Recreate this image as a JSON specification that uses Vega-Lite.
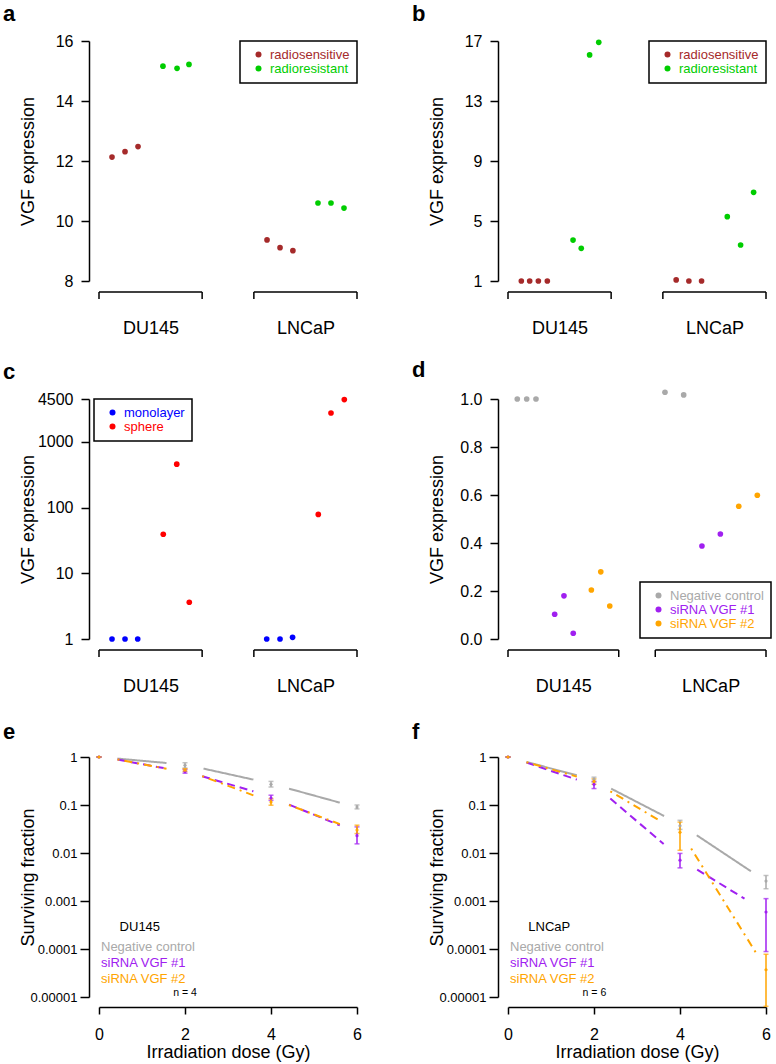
{
  "$schema": "https://vega.github.io/schema/vega-lite/v6.json",
  "background": "white",
  "padding": {"left": 3, "top": 3, "right": 5, "bottom": 5},
  "datasets": {
    "a": [
      {"cell": "DU145", "group": "radiosensitive", "pos": 0.751, "vgf": 12.13},
      {"cell": "DU145", "group": "radiosensitive", "pos": 0.835, "vgf": 12.31},
      {"cell": "DU145", "group": "radiosensitive", "pos": 0.919, "vgf": 12.48},
      {"cell": "DU145", "group": "radioresistant", "pos": 1.080, "vgf": 15.16},
      {"cell": "DU145", "group": "radioresistant", "pos": 1.171, "vgf": 15.09},
      {"cell": "DU145", "group": "radioresistant", "pos": 1.248, "vgf": 15.22},
      {"cell": "LNCaP", "group": "radiosensitive", "pos": 1.752, "vgf": 9.37},
      {"cell": "LNCaP", "group": "radiosensitive", "pos": 1.836, "vgf": 9.11},
      {"cell": "LNCaP", "group": "radiosensitive", "pos": 1.919, "vgf": 9.01},
      {"cell": "LNCaP", "group": "radioresistant", "pos": 2.081, "vgf": 10.60},
      {"cell": "LNCaP", "group": "radioresistant", "pos": 2.165, "vgf": 10.60},
      {"cell": "LNCaP", "group": "radioresistant", "pos": 2.249, "vgf": 10.43}
    ],
    "b": [
      {"cell": "DU145", "group": "radiosensitive", "pos": 0.753, "vgf": 1.0},
      {"cell": "DU145", "group": "radiosensitive", "pos": 0.807, "vgf": 1.0},
      {"cell": "DU145", "group": "radiosensitive", "pos": 0.863, "vgf": 1.0},
      {"cell": "DU145", "group": "radiosensitive", "pos": 0.921, "vgf": 1.0},
      {"cell": "DU145", "group": "radioresistant", "pos": 1.087, "vgf": 3.73},
      {"cell": "DU145", "group": "radioresistant", "pos": 1.140, "vgf": 3.18},
      {"cell": "DU145", "group": "radioresistant", "pos": 1.194, "vgf": 16.07},
      {"cell": "DU145", "group": "radioresistant", "pos": 1.253, "vgf": 16.91},
      {"cell": "LNCaP", "group": "radiosensitive", "pos": 1.753, "vgf": 1.07},
      {"cell": "LNCaP", "group": "radiosensitive", "pos": 1.835, "vgf": 1.0},
      {"cell": "LNCaP", "group": "radiosensitive", "pos": 1.917, "vgf": 1.0},
      {"cell": "LNCaP", "group": "radioresistant", "pos": 2.083, "vgf": 5.29},
      {"cell": "LNCaP", "group": "radioresistant", "pos": 2.169, "vgf": 3.40},
      {"cell": "LNCaP", "group": "radioresistant", "pos": 2.253, "vgf": 6.91}
    ],
    "c": [
      {"cell": "DU145", "group": "monolayer", "pos": 0.751, "vgf": 1.0},
      {"cell": "DU145", "group": "monolayer", "pos": 0.835, "vgf": 1.0},
      {"cell": "DU145", "group": "monolayer", "pos": 0.917, "vgf": 1.0},
      {"cell": "DU145", "group": "sphere", "pos": 1.082, "vgf": 39.3},
      {"cell": "DU145", "group": "sphere", "pos": 1.169, "vgf": 458},
      {"cell": "DU145", "group": "sphere", "pos": 1.250, "vgf": 3.63},
      {"cell": "LNCaP", "group": "monolayer", "pos": 1.750, "vgf": 1.0},
      {"cell": "LNCaP", "group": "monolayer", "pos": 1.836, "vgf": 1.0},
      {"cell": "LNCaP", "group": "monolayer", "pos": 1.917, "vgf": 1.06},
      {"cell": "LNCaP", "group": "sphere", "pos": 2.083, "vgf": 78.7},
      {"cell": "LNCaP", "group": "sphere", "pos": 2.165, "vgf": 2756},
      {"cell": "LNCaP", "group": "sphere", "pos": 2.251, "vgf": 4403}
    ],
    "d": [
      {"cell": "DU145", "group": "Negative control", "pos": 0.687, "vgf": 1.0},
      {"cell": "DU145", "group": "Negative control", "pos": 0.751, "vgf": 1.0},
      {"cell": "DU145", "group": "Negative control", "pos": 0.814, "vgf": 1.0},
      {"cell": "DU145", "group": "siRNA VGF #1", "pos": 0.941, "vgf": 0.103},
      {"cell": "DU145", "group": "siRNA VGF #1", "pos": 1.004, "vgf": 0.180},
      {"cell": "DU145", "group": "siRNA VGF #1", "pos": 1.067, "vgf": 0.024},
      {"cell": "DU145", "group": "siRNA VGF #2", "pos": 1.190, "vgf": 0.204},
      {"cell": "DU145", "group": "siRNA VGF #2", "pos": 1.254, "vgf": 0.280},
      {"cell": "DU145", "group": "siRNA VGF #2", "pos": 1.315, "vgf": 0.1375},
      {"cell": "LNCaP", "group": "Negative control", "pos": 1.690, "vgf": 1.028},
      {"cell": "LNCaP", "group": "Negative control", "pos": 1.817, "vgf": 1.017},
      {"cell": "LNCaP", "group": "siRNA VGF #1", "pos": 1.941, "vgf": 0.3875},
      {"cell": "LNCaP", "group": "siRNA VGF #1", "pos": 2.066, "vgf": 0.4375},
      {"cell": "LNCaP", "group": "siRNA VGF #2", "pos": 2.191, "vgf": 0.553},
      {"cell": "LNCaP", "group": "siRNA VGF #2", "pos": 2.317, "vgf": 0.599}
    ],
    "brackets": [
      {"cell": "DU145", "from": 0.667, "to": 1.333},
      {"cell": "LNCaP", "from": 1.667, "to": 2.333}
    ],
    "brackets_d": [
      {"cell": "DU145", "from": 0.624, "to": 1.376},
      {"cell": "LNCaP", "from": 1.624, "to": 2.376}
    ],
    "e_seg": [
      {"series": "Negative control", "x": 0.43, "y": 0.926, "x2": 1.57, "y2": 0.75},
      {"series": "Negative control", "x": 2.43, "y": 0.573, "x2": 3.59, "y2": 0.338},
      {"series": "Negative control", "x": 4.42, "y": 0.219, "x2": 5.6, "y2": 0.112},
      {"series": "siRNA VGF #1", "x": 0.43, "y": 0.883, "x2": 1.57, "y2": 0.573},
      {"series": "siRNA VGF #1", "x": 2.4, "y": 0.396, "x2": 3.59, "y2": 0.193},
      {"series": "siRNA VGF #1", "x": 4.42, "y": 0.102, "x2": 5.6, "y2": 0.0378},
      {"series": "siRNA VGF #2", "x": 0.43, "y": 0.89, "x2": 1.57, "y2": 0.57},
      {"series": "siRNA VGF #2", "x": 2.4, "y": 0.40, "x2": 3.59, "y2": 0.159},
      {"series": "siRNA VGF #2", "x": 4.42, "y": 0.10, "x2": 5.6, "y2": 0.04}
    ],
    "e_pts": [
      {"series": "Negative control", "dose": 0, "sf": 1, "lo": 1, "hi": 1},
      {"series": "Negative control", "dose": 2, "sf": 0.67, "lo": 0.59, "hi": 0.76},
      {"series": "Negative control", "dose": 4, "sf": 0.27, "lo": 0.237, "hi": 0.31},
      {"series": "Negative control", "dose": 6, "sf": 0.091, "lo": 0.083, "hi": 0.10},
      {"series": "siRNA VGF #1", "dose": 0, "sf": 1, "lo": 1, "hi": 1},
      {"series": "siRNA VGF #1", "dose": 2, "sf": 0.50, "lo": 0.46, "hi": 0.55},
      {"series": "siRNA VGF #1", "dose": 4, "sf": 0.14, "lo": 0.125, "hi": 0.16},
      {"series": "siRNA VGF #1", "dose": 6, "sf": 0.023, "lo": 0.0155, "hi": 0.035},
      {"series": "siRNA VGF #2", "dose": 0, "sf": 1, "lo": 1, "hi": 1},
      {"series": "siRNA VGF #2", "dose": 2, "sf": 0.53, "lo": 0.50, "hi": 0.57},
      {"series": "siRNA VGF #2", "dose": 4, "sf": 0.115, "lo": 0.099, "hi": 0.136},
      {"series": "siRNA VGF #2", "dose": 6, "sf": 0.030, "lo": 0.0254, "hi": 0.038}
    ],
    "f_seg": [
      {"series": "Negative control", "x": 0.43, "y": 0.787, "x2": 1.6, "y2": 0.416},
      {"series": "Negative control", "x": 2.4, "y": 0.219, "x2": 3.63, "y2": 0.059},
      {"series": "Negative control", "x": 4.39, "y": 0.0234, "x2": 5.65, "y2": 0.00416},
      {"series": "siRNA VGF #1", "x": 0.43, "y": 0.764, "x2": 1.6, "y2": 0.338},
      {"series": "siRNA VGF #1", "x": 2.38, "y": 0.136, "x2": 3.62, "y2": 0.0154},
      {"series": "siRNA VGF #1", "x": 4.4, "y": 0.0045, "x2": 5.5, "y2": 0.00112},
      {"series": "siRNA VGF #2", "x": 0.43, "y": 0.78, "x2": 1.6, "y2": 0.39},
      {"series": "siRNA VGF #2", "x": 2.38, "y": 0.193, "x2": 3.58, "y2": 0.0443},
      {"series": "siRNA VGF #2", "x": 4.26, "y": 0.0124, "x2": 5.78, "y2": 0.00008}
    ],
    "f_pts": [
      {"series": "Negative control", "dose": 0, "sf": 1, "lo": 1, "hi": 1},
      {"series": "Negative control", "dose": 2, "sf": 0.34, "lo": 0.30, "hi": 0.38},
      {"series": "Negative control", "dose": 4, "sf": 0.037, "lo": 0.031, "hi": 0.048},
      {"series": "Negative control", "dose": 6, "sf": 0.0026, "lo": 0.0018, "hi": 0.0034},
      {"series": "siRNA VGF #1", "dose": 0, "sf": 1, "lo": 1, "hi": 1},
      {"series": "siRNA VGF #1", "dose": 2, "sf": 0.27, "lo": 0.22, "hi": 0.31},
      {"series": "siRNA VGF #1", "dose": 4, "sf": 0.0071, "lo": 0.0049, "hi": 0.0098},
      {"series": "siRNA VGF #1", "dose": 6, "sf": 0.00059, "lo": 0.0000885, "hi": 0.00112},
      {"series": "siRNA VGF #2", "dose": 0, "sf": 1, "lo": 1, "hi": 1},
      {"series": "siRNA VGF #2", "dose": 2, "sf": 0.31, "lo": 0.27, "hi": 0.35},
      {"series": "siRNA VGF #2", "dose": 4, "sf": 0.027, "lo": 0.0114, "hi": 0.044},
      {"series": "siRNA VGF #2", "dose": 6, "sf": 0.000037, "lo": 0.0000064, "hi": 0.0000776}
    ]
  },
  "concat": [
    {
      "width": 258, "height": 240,
      "title": {"text": "a"},
      "layer": [
        {
          "data": {"name": "a"},
          "mark": {"type": "circle", "size": 32, "opacity": 1},
          "encoding": {
            "x": {"field": "pos", "type": "quantitative", "scale": {"domain": [0.667, 2.333], "nice": false, "zero": false},
                  "axis": {"values": [1, 2], "labelExpr": "datum.value == 1 ? 'DU145' : 'LNCaP'", "domain": false, "ticks": false, "tickSize": 0, "labelPadding": 38, "labelFontSize": 18, "title": null}},
            "y": {"field": "vgf", "type": "quantitative", "scale": {"domain": [8, 16], "nice": false, "zero": false},
                  "axis": {"values": [8, 10, 12, 14, 16], "title": "VGF expression", "offset": 10, "titleX": -52}},
            "color": {"field": "group", "type": "nominal", "scale": {"domain": ["radiosensitive", "radioresistant"], "range": ["#a52a2a", "#00cd00"]},
                      "legend": {"title": null, "orient": "top-right", "offset": 0, "labelColor": {"expr": "datum.value == 'radiosensitive' ? '#a52a2a' : '#00cd00'"}}}
          }
        },
        {"data": {"name": "brackets"}, "mark": {"type": "rule", "color": "black", "strokeWidth": 1.5},
         "encoding": {"x": {"field": "from", "type": "quantitative"}, "x2": {"field": "to"}, "y": {"datum": 7.633}}},
        {"data": {"name": "brackets"}, "mark": {"type": "rule", "color": "black", "strokeWidth": 1.5},
         "encoding": {"x": {"field": "from", "type": "quantitative"}, "y": {"datum": 7.633}, "y2": {"datum": 7.4}}},
        {"data": {"name": "brackets"}, "mark": {"type": "rule", "color": "black", "strokeWidth": 1.5},
         "encoding": {"x": {"field": "to", "type": "quantitative"}, "y": {"datum": 7.633}, "y2": {"datum": 7.4}}}
      ]
    },
    {
      "width": 258, "height": 240,
      "title": {"text": "b"},
      "layer": [
        {
          "data": {"name": "b"},
          "mark": {"type": "circle", "size": 32, "opacity": 1},
          "encoding": {
            "x": {"field": "pos", "type": "quantitative", "scale": {"domain": [0.667, 2.333], "nice": false, "zero": false},
                  "axis": {"values": [1, 2], "labelExpr": "datum.value == 1 ? 'DU145' : 'LNCaP'", "domain": false, "ticks": false, "tickSize": 0, "labelPadding": 38, "labelFontSize": 18, "title": null}},
            "y": {"field": "vgf", "type": "quantitative", "scale": {"domain": [1, 17], "nice": false, "zero": false},
                  "axis": {"values": [1, 5, 9, 13, 17], "title": "VGF expression", "offset": 10, "titleX": -52}},
            "color": {"field": "group", "type": "nominal", "scale": {"domain": ["radiosensitive", "radioresistant"], "range": ["#a52a2a", "#00cd00"]},
                      "legend": {"title": null, "orient": "top-right", "offset": 0, "labelColor": {"expr": "datum.value == 'radiosensitive' ? '#a52a2a' : '#00cd00'"}}}
          }
        },
        {"data": {"name": "brackets"}, "mark": {"type": "rule", "color": "black", "strokeWidth": 1.5},
         "encoding": {"x": {"field": "from", "type": "quantitative"}, "x2": {"field": "to"}, "y": {"datum": 0.267}}},
        {"data": {"name": "brackets"}, "mark": {"type": "rule", "color": "black", "strokeWidth": 1.5},
         "encoding": {"x": {"field": "from", "type": "quantitative"}, "y": {"datum": 0.267}, "y2": {"datum": -0.2}}},
        {"data": {"name": "brackets"}, "mark": {"type": "rule", "color": "black", "strokeWidth": 1.5},
         "encoding": {"x": {"field": "to", "type": "quantitative"}, "y": {"datum": 0.267}, "y2": {"datum": -0.2}}}
      ]
    },
    {
      "width": 258, "height": 240,
      "title": {"text": "c"},
      "layer": [
        {
          "data": {"name": "c"},
          "mark": {"type": "circle", "size": 32, "opacity": 1},
          "encoding": {
            "x": {"field": "pos", "type": "quantitative", "scale": {"domain": [0.667, 2.333], "nice": false, "zero": false},
                  "axis": {"values": [1, 2], "labelExpr": "datum.value == 1 ? 'DU145' : 'LNCaP'", "domain": false, "ticks": false, "tickSize": 0, "labelPadding": 38, "labelFontSize": 18, "title": null}},
            "y": {"field": "vgf", "type": "quantitative", "scale": {"type": "log", "domain": [1, 4500], "nice": false},
                  "axis": {"values": [1, 10, 100, 1000, 4500], "format": "d", "title": "VGF expression", "offset": 10, "titleX": -52}},
            "color": {"field": "group", "type": "nominal", "scale": {"domain": ["monolayer", "sphere"], "range": ["#0000ff", "#ff0000"]},
                      "legend": {"title": null, "orient": "none", "legendX": -5, "legendY": 0, "labelColor": {"expr": "datum.value == 'monolayer' ? '#0000ff' : '#ff0000'"}}}
          }
        },
        {"data": {"name": "brackets"}, "mark": {"type": "rule", "color": "black", "strokeWidth": 1.5},
         "encoding": {"x": {"field": "from", "type": "quantitative"}, "x2": {"field": "to"}, "y": {"datum": 0.679}}},
        {"data": {"name": "brackets"}, "mark": {"type": "rule", "color": "black", "strokeWidth": 1.5},
         "encoding": {"x": {"field": "from", "type": "quantitative"}, "y": {"datum": 0.679}, "y2": {"datum": 0.53}}},
        {"data": {"name": "brackets"}, "mark": {"type": "rule", "color": "black", "strokeWidth": 1.5},
         "encoding": {"x": {"field": "to", "type": "quantitative"}, "y": {"datum": 0.679}, "y2": {"datum": 0.53}}}
      ]
    },
    {
      "width": 258, "height": 240,
      "title": {"text": "d"},
      "layer": [
        {
          "data": {"name": "d"},
          "mark": {"type": "circle", "size": 32, "opacity": 1},
          "encoding": {
            "x": {"field": "pos", "type": "quantitative", "scale": {"domain": [0.624, 2.376], "nice": false, "zero": false},
                  "axis": {"values": [1, 2], "labelExpr": "datum.value == 1 ? 'DU145' : 'LNCaP'", "domain": false, "ticks": false, "tickSize": 0, "labelPadding": 38, "labelFontSize": 18, "title": null}},
            "y": {"field": "vgf", "type": "quantitative", "scale": {"domain": [0, 1], "nice": false, "zero": false},
                  "axis": {"values": [0, 0.2, 0.4, 0.6, 0.8, 1.0], "format": ".1f", "title": "VGF expression", "offset": 10, "titleX": -52}},
            "color": {"field": "group", "type": "nominal", "scale": {"domain": ["Negative control", "siRNA VGF #1", "siRNA VGF #2"], "range": ["#a9a9a9", "#a020f0", "#ffa500"]},
                      "legend": {"title": null, "orient": "none", "legendX": 132, "legendY": 183, "labelColor": {"expr": "datum.value == 'Negative control' ? '#a9a9a9' : datum.value == 'siRNA VGF #1' ? '#a020f0' : '#ffa500'"}}}
          }
        },
        {"data": {"name": "brackets_d"}, "mark": {"type": "rule", "color": "black", "strokeWidth": 1.5},
         "encoding": {"x": {"field": "from", "type": "quantitative"}, "x2": {"field": "to"}, "y": {"datum": -0.0458}}},
        {"data": {"name": "brackets_d"}, "mark": {"type": "rule", "color": "black", "strokeWidth": 1.5},
         "encoding": {"x": {"field": "from", "type": "quantitative"}, "y": {"datum": -0.0458}, "y2": {"datum": -0.075}}},
        {"data": {"name": "brackets_d"}, "mark": {"type": "rule", "color": "black", "strokeWidth": 1.5},
         "encoding": {"x": {"field": "to", "type": "quantitative"}, "y": {"datum": -0.0458}, "y2": {"datum": -0.075}}}
      ]
    },
    {
      "width": 258, "height": 240,
      "title": {"text": "e"},
      "layer": [
        {
          "data": {"name": "e_seg"},
          "mark": {"type": "rule", "strokeWidth": 2},
          "encoding": {
            "x": {"field": "x", "type": "quantitative", "title": "Irradiation dose (Gy)", "scale": {"domain": [0, 6], "nice": false, "zero": false},
                  "axis": {"values": [0, 2, 4, 6], "format": "d", "offset": 10, "tickSize": 7, "labelPadding": 12, "titlePadding": 1}},
            "x2": {"field": "x2"},
            "y": {"field": "y", "type": "quantitative", "title": "Surviving fraction", "scale": {"type": "log", "domain": [0.00001, 1], "nice": false},
                  "axis": {"values": [0.00001, 0.0001, 0.001, 0.01, 0.1, 1], "format": ".5~f", "labelFontSize": 13, "labelPadding": 3, "tickSize": 9, "offset": 10, "titleX": -52}},
            "y2": {"field": "y2"},
            "color": {"field": "series", "type": "nominal", "scale": {"domain": ["Negative control", "siRNA VGF #1", "siRNA VGF #2"], "range": ["#a9a9a9", "#a020f0", "#ffa500"]},
                      "legend": {"title": null, "orient": "none", "legendX": -11, "legendY": 183, "padding": 0, "strokeColor": "transparent", "symbolOpacity": 0, "symbolSize": 0, "symbolStrokeWidth": 0, "symbolOffset": 0, "labelOffset": 0, "rowPadding": 2,
                                 "labelColor": {"expr": "datum.value == 'Negative control' ? '#a9a9a9' : datum.value == 'siRNA VGF #1' ? '#a020f0' : '#ffa500'"}}},
            "strokeDash": {"field": "series", "type": "nominal", "scale": {"domain": ["Negative control", "siRNA VGF #1", "siRNA VGF #2"], "range": [[1, 0], [8, 5], [2, 5, 8, 5]]}, "legend": null}
          }
        },
        {
          "data": {"name": "e_pts"},
          "mark": {"type": "errorbar", "ticks": {"size": 5}, "thickness": 1.5},
          "encoding": {
            "x": {"field": "dose", "type": "quantitative", "title": "Irradiation dose (Gy)"},
            "y": {"field": "lo", "type": "quantitative", "title": "Surviving fraction"},
            "y2": {"field": "hi"},
            "color": {"field": "series", "type": "nominal"}
          }
        },
        {
          "data": {"name": "e_pts"},
          "mark": {"type": "circle", "size": 10, "opacity": 1},
          "encoding": {
            "x": {"field": "dose", "type": "quantitative", "title": "Irradiation dose (Gy)"},
            "y": {"field": "sf", "type": "quantitative", "title": "Surviving fraction"},
            "color": {"field": "series", "type": "nominal"}
          }
        },
        {
          "data": {"values": [{"t": "DU145"}]},
          "mark": {"type": "text", "fontSize": 13, "align": "center", "baseline": "middle", "color": "black"},
          "encoding": {"x": {"datum": 0.95}, "y": {"datum": 0.000287}, "text": {"field": "t"}}
        },
        {
          "data": {"values": [{"t": "n = 4"}]},
          "mark": {"type": "text", "fontSize": 10.5, "align": "center", "baseline": "middle", "color": "black"},
          "encoding": {"x": {"datum": 2.0}, "y": {"datum": 0.0000124}, "text": {"field": "t"}}
        }
      ]
    },
    {
      "width": 258, "height": 240,
      "title": {"text": "f"},
      "layer": [
        {
          "data": {"name": "f_seg"},
          "mark": {"type": "rule", "strokeWidth": 2},
          "encoding": {
            "x": {"field": "x", "type": "quantitative", "title": "Irradiation dose (Gy)", "scale": {"domain": [0, 6], "nice": false, "zero": false},
                  "axis": {"values": [0, 2, 4, 6], "format": "d", "offset": 10, "tickSize": 7, "labelPadding": 12, "titlePadding": 1}},
            "x2": {"field": "x2"},
            "y": {"field": "y", "type": "quantitative", "title": "Surviving fraction", "scale": {"type": "log", "domain": [0.00001, 1], "nice": false},
                  "axis": {"values": [0.00001, 0.0001, 0.001, 0.01, 0.1, 1], "format": ".5~f", "labelFontSize": 13, "labelPadding": 3, "tickSize": 9, "offset": 10, "titleX": -52}},
            "y2": {"field": "y2"},
            "color": {"field": "series", "type": "nominal", "scale": {"domain": ["Negative control", "siRNA VGF #1", "siRNA VGF #2"], "range": ["#a9a9a9", "#a020f0", "#ffa500"]},
                      "legend": {"title": null, "orient": "none", "legendX": -11, "legendY": 183, "padding": 0, "strokeColor": "transparent", "symbolOpacity": 0, "symbolSize": 0, "symbolStrokeWidth": 0, "symbolOffset": 0, "labelOffset": 0, "rowPadding": 2,
                                 "labelColor": {"expr": "datum.value == 'Negative control' ? '#a9a9a9' : datum.value == 'siRNA VGF #1' ? '#a020f0' : '#ffa500'"}}},
            "strokeDash": {"field": "series", "type": "nominal", "scale": {"domain": ["Negative control", "siRNA VGF #1", "siRNA VGF #2"], "range": [[1, 0], [8, 5], [2, 5, 8, 5]]}, "legend": null}
          }
        },
        {
          "data": {"name": "f_pts"},
          "mark": {"type": "errorbar", "ticks": {"size": 5}, "thickness": 1.5},
          "encoding": {
            "x": {"field": "dose", "type": "quantitative", "title": "Irradiation dose (Gy)"},
            "y": {"field": "lo", "type": "quantitative", "title": "Surviving fraction"},
            "y2": {"field": "hi"},
            "color": {"field": "series", "type": "nominal"}
          }
        },
        {
          "data": {"name": "f_pts"},
          "mark": {"type": "circle", "size": 10, "opacity": 1},
          "encoding": {
            "x": {"field": "dose", "type": "quantitative", "title": "Irradiation dose (Gy)"},
            "y": {"field": "sf", "type": "quantitative", "title": "Surviving fraction"},
            "color": {"field": "series", "type": "nominal"}
          }
        },
        {
          "data": {"values": [{"t": "LNCaP"}]},
          "mark": {"type": "text", "fontSize": 13, "align": "center", "baseline": "middle", "color": "black"},
          "encoding": {"x": {"datum": 0.96}, "y": {"datum": 0.000287}, "text": {"field": "t"}}
        },
        {
          "data": {"values": [{"t": "n = 6"}]},
          "mark": {"type": "text", "fontSize": 10.5, "align": "center", "baseline": "middle", "color": "black"},
          "encoding": {"x": {"datum": 2.01}, "y": {"datum": 0.0000124}, "text": {"field": "t"}}
        }
      ]
    }
  ],
  "columns": 2,
  "spacing": {"row": 118, "column": 151},
  "bounds": "flush",
  "resolve": {
    "scale": {"x": "independent", "y": "independent", "color": "independent", "strokeDash": "independent"},
    "axis": {"x": "independent", "y": "independent"},
    "legend": {"color": "independent", "strokeDash": "independent"}
  },
  "config": {
    "font": "Liberation Sans",
    "view": {"stroke": null},
    "axis": {
      "domainColor": "black", "domainWidth": 1.5, "tickColor": "black", "tickWidth": 1.5, "tickSize": 8,
      "labelColor": "black", "labelFontSize": 16, "labelPadding": 8, "labelFlush": false, "labelOverlap": false,
      "titleColor": "black", "titleFontSize": 18, "titleFontWeight": "normal", "grid": false
    },
    "legend": {
      "strokeColor": "black", "strokeWidth": 1.5, "padding": 7, "labelFontSize": 13, "labelFont": "Liberation Sans",
      "symbolSize": 36, "symbolType": "circle", "symbolStrokeWidth": 0, "rowPadding": 0, "labelOffset": 5, "symbolOffset": 5
    },
    "title": {
      "anchor": "start", "frame": "group", "dx": -96, "fontSize": 22, "fontWeight": "bold", "offset": 7,
      "baseline": "alphabetic", "color": "black", "font": "Liberation Sans"
    }
  }
}
